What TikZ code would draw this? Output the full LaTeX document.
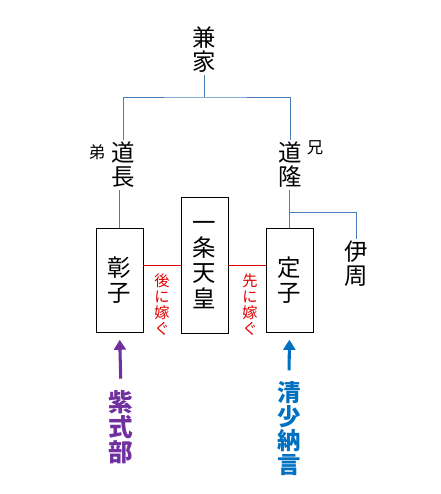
\documentclass[tikz,border=0pt]{standalone}
\usepackage{fontspec}
\setmainfont{Noto Sans CJK JP}
\usetikzlibrary{arrows.meta}

\definecolor{treeline}{HTML}{4A7EBB}
\definecolor{murasakicol}{HTML}{7030A0}
\definecolor{seicol}{HTML}{0070C0}
\definecolor{wedred}{HTML}{E00000}

\tikzset{
    person/.style={align=center, inner sep=2pt, font=\fontsize{20}{20.5}\selectfont},
    note/.style={align=center, inner sep=1pt, font=\fontsize{14}{14}\selectfont},
    royal/.style={draw=black, line width=0.8pt, align=center, inner sep=0pt,
        minimum width=1.41cm, font=\fontsize{20}{21}\selectfont},
    wedtext/.style={align=center, inner sep=1pt, text=wedred, font=\fontsize{13}{13.7}\selectfont},
    tree/.style={draw=treeline, line width=0.8pt},
    wed/.style={draw=wedred, line width=0.6pt},
    writer/.style={align=center, inner sep=1pt, font=\fontsize{21}{21.5}\selectfont\bfseries},
    pointer/.style={line width=2.6pt, -{Triangle[width=0.36cm,length=0.3cm]},
        shorten <=0.3cm, shorten >=0.22cm}
}

\begin{document}
\begin{tikzpicture}[x=0.03cm, y=-0.03cm]
    \useasboundingbox (0,0) rectangle (441,494);

    % family
    \node[person] (kaneie) at (204,50) {兼\\家};
    \node[person] (michinaga) at (123,165) {道\\長};
    \node[person] (michitaka) at (290,165) {道\\隆};
    \node[note] (otouto) at (97,152) {弟};
    \node[note] (ani) at (315,148) {兄};
    \node[person] (korechika) at (356,264) {伊\\周};

    % boxes
    \node[royal, minimum height=3.12cm] (akiko) at (119.5,280) {彰\\子};
    \node[royal, minimum height=4.08cm, font=\fontsize{20}{21.5}\selectfont] (emperor) at (204.5,265) {一\\条\\天\\皇};
    \node[royal, minimum height=3.12cm] (sadako) at (289.5,280) {定\\子};

    \node[wedtext] (later) at (162,305) {後\\に\\嫁\\ぐ};
    \node[wedtext] (earlier) at (250,305) {先\\に\\嫁\\ぐ};

    % writers
    \node[writer, text=murasakicol] (murasaki) at (121,427) {紫\\式\\部};
    \node[writer, text=seicol, font=\fontsize{20}{20.5}\selectfont\bfseries] (sei) at (289,429) {清\\少\\納\\言};

    % lines
    \coordinate (fork) at (204,97);
    \coordinate (branch) at (289,212);
    \draw[tree] (kaneie) -- (fork);
    \draw[tree] (michinaga) |- (fork) -| (michitaka);
    \draw[tree] (akiko.north) -- (akiko.north |- michinaga.south);
    \draw[tree] (sadako.north) -- (sadako.north |- michitaka.south);
    \draw[tree] (branch) -| (korechika);

    % double red lines
    \foreach \dy in {-1.1pt,1.1pt}{
        \draw[wed, yshift=\dy] (akiko.east |- emperor) -- (emperor.west);
        \draw[wed, yshift=\dy] (emperor.east) -- (sadako.west |- emperor);
    }

    \draw[pointer, murasakicol] (murasaki.north) -- (akiko.south);
    \draw[pointer, seicol] (sei.north) -- (sadako.south);
\end{tikzpicture}
\end{document}
